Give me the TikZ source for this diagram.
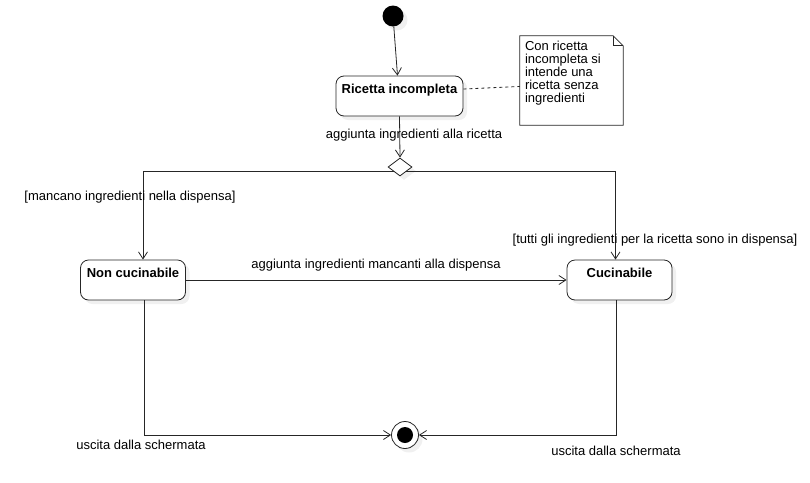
\documentclass[tikz,border=0pt]{standalone}
\usepackage{fontspec}
\setmainfont{Liberation Sans}
\usetikzlibrary{arrows.meta,shapes.geometric,shadows}
\begin{document}
\begin{tikzpicture}[x=1pt,y=-1pt,
  every node/.style={font=\fontsize{13}{13}\selectfont},
  conn/.style={draw=black!85, line width=0.8pt},
  arr/.style={conn, -{Straight Barb[length=7pt,width=9pt]}},
  shad/.style={drop shadow={opacity=0.12, shadow xshift=4pt, shadow yshift=-4pt}},
  statebox/.style={draw=black!85, line width=0.8pt, rounded corners=8pt, fill=white, shad,
    minimum height=40pt, text height=11.6pt, text depth=16.4pt, inner ysep=6pt,
    font=\fontsize{13}{13}\selectfont\bfseries},
  lbl/.style={inner sep=0pt}
]
\useasboundingbox (0,0) rectangle (810,482);

% initial node
\node[circle, fill=black, minimum size=21pt, inner sep=0pt, shad] (ini) at (393,16) {};

% states
\node[statebox, minimum width=127pt] (ric) at (399.5,96) {Ricetta incompleta};
\node[statebox, minimum width=105pt] (non) at (133,280) {Non cucinabile};
\node[statebox, minimum width=105pt] (cuc) at (619.5,280) {Cucinabile};

% decision
\node[diamond, draw=black!85, line width=0.8pt, fill=white, minimum width=24pt, minimum height=18pt, inner sep=0pt, shad] (dia) at (400,167) {};

% final node
\node[circle, draw=black!85, line width=0.8pt, fill=white, minimum size=27pt, inner sep=0pt, shad] (fin) at (405,435) {};
\node[circle, fill=black, minimum size=16pt, inner sep=0pt] (finin) at (fin.center) {};

% note
\node[minimum width=103pt, minimum height=89pt, inner sep=0pt] (note) at (571.5,80.5) {};
\draw[conn, fill=white] (note.south west) -- (note.north west) -- ([xshift=-10pt]note.north east)
  -- ([yshift=-10pt]note.north east) -- (note.south east) -- cycle;
\draw[conn] ([xshift=-10pt]note.north east) -- ([xshift=-10pt,yshift=-10pt]note.north east) -- ([yshift=-10pt]note.north east);
\node[anchor=north west, align=left, inner sep=0pt] (nt) at ([xshift=5pt,yshift=-5pt]note.north west)
  {Con ricetta\\incompleta si\\intende una\\ricetta senza\\ingredienti};
\draw[conn, dash pattern=on 3pt off 3pt] ([yshift=7pt]ric.east) -- ([yshift=-6pt]note.west);

% connectors
\draw[arr] (ini) -- ([xshift=-2pt]ric.north);
\draw[arr] (ric.south) -- (dia.north);
\node[lbl] (l1) at (414,135) {aggiunta ingredienti alla ricetta};

\draw[arr] (dia.south west) -| ([xshift=10pt]non.north);
\node[lbl] (l2) at (130,197) {[mancano ingredienti nella dispensa]};

\draw[arr] (dia.south east) -| ([xshift=-4pt]cuc.north);
\node[lbl] (l3) at (655,240) {[tutti gli ingredienti per la ricetta sono in dispensa]};

\draw[arr] (non.east) -- (cuc.west);
\node[lbl] (l4) at (376,265) {aggiunta ingredienti mancanti alla dispensa};

\draw[arr] ([xshift=11pt]non.south) |- (fin.west);
\node[lbl] (l5) at (141,445) {uscita dalla schermata};

\draw[arr] ([xshift=-3pt]cuc.south) |- (fin.east);
\node[lbl] (l6) at (616,451) {uscita dalla schermata};
\end{tikzpicture}
\end{document}
